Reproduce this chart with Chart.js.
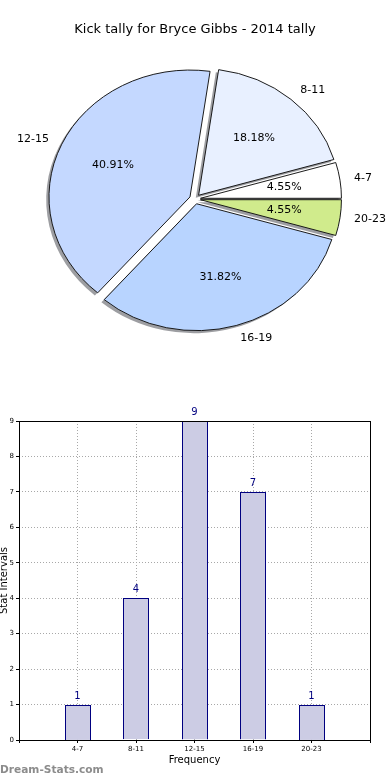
<!DOCTYPE html>
<html>
<head>
<meta charset="utf-8">
<script src="https://cdn.jsdelivr.net/npm/chart.js@4/dist/chart.umd.min.js"></script>
<style>
  html, body { margin: 0; padding: 0; background: #fff; }
  body { width: 390px; height: 780px; position: relative; overflow: hidden; font-family: "DejaVu Sans", sans-serif; }
  #pieBox { position: absolute; left: 0; top: 0; width: 390px; height: 380px; }
  #barBox { position: absolute; left: 0; top: 390px; width: 390px; height: 390px; }
  #wm { position: absolute; left: 0; top: 763px; font: bold 10.6px "DejaVu Sans", sans-serif; color: #8c8c8c; }
</style>
</head>
<body>
<div id="pieBox"><canvas id="pie" width="390" height="380"></canvas></div>
<div id="barBox"><canvas id="bar" width="390" height="390"></canvas></div>
<div id="wm">Dream-Stats.com</div>
<script>
// ---- data ----
const titleText = 'Kick tally for Bryce Gibbs - 2014 tally';
const categories = ['4-7', '8-11', '12-15', '16-19', '20-23'];
const kickCounts = [1, 4, 9, 7, 1];
const sliceColors = ['#ffffff', '#e8f0ff', '#c4d8ff', '#b8d4ff', '#d0eb8c'];
const yTicks = [0, 1, 2, 3, 4, 5, 6, 7, 8, 9];
const xAxisTitle = 'Frequency';
const yAxisTitle = 'Stat Intervals';

const FONT = '"DejaVu Sans", sans-serif';
const SY = 0.9;        // vertical squash of the pie (ellipse)
const EXPLODE = 5.5;   // px each wedge is pulled out

// matplotlib draws counter-clockwise from east; Chart.js clockwise -> reverse order
const pieLabels = categories.slice().reverse();
const pieValues = kickCounts.slice().reverse();
const pieColors = sliceColors.slice().reverse();
const total = kickCounts.reduce((a, b) => a + b, 0);

function place(ctx, arc, dx, dy) {
  const mid = (arc.startAngle + arc.endAngle) / 2;
  ctx.translate(dx, dy);
  ctx.translate(arc.x, arc.y);
  ctx.scale(1, SY);
  ctx.translate(-arc.x, -arc.y);
  ctx.translate(EXPLODE * Math.cos(mid), EXPLODE * Math.sin(mid));
}

const piePlugin = {
  id: 'piePlugin',
  beforeDatasetsDraw(chart) {
    const ctx = chart.ctx;
    const arcs = chart.getDatasetMeta(0).data;
    // shadows first (under all wedges)
    arcs.forEach(arc => {
      const saved = arc.options;
      arc.options = Object.assign({}, saved, { backgroundColor: 'rgba(60,62,70,0.5)', borderWidth: 0, borderColor: 'rgba(0,0,0,0)' });
      ctx.save();
      place(ctx, arc, -2.8, 2.6);
      arc.draw(ctx);
      ctx.restore();
      arc.options = saved;
    });
    // wedges
    arcs.forEach(arc => {
      ctx.save();
      place(ctx, arc, 0, 0);
      arc.draw(ctx);
      ctx.restore();
    });
    // labels
    ctx.save();
    ctx.fillStyle = '#000';
    ctx.font = '11px ' + FONT;
    ctx.textBaseline = 'middle';
    arcs.forEach((arc, i) => {
      const mid = (arc.startAngle + arc.endAngle) / 2;
      const r = arc.outerRadius;
      const c = Math.cos(mid), s = Math.sin(mid);
      const lx = arc.x + (EXPLODE + 1.1 * r) * c;
      const ly = arc.y + (EXPLODE + 1.1 * r) * s * SY;
      ctx.textAlign = c >= 0 ? 'left' : 'right';
      ctx.fillText(pieLabels[i], lx, ly);
      const px = arc.x + (EXPLODE + 0.6 * r) * c;
      const py = arc.y + (EXPLODE + 0.6 * r) * s * SY;
      ctx.textAlign = 'center';
      ctx.fillText((pieValues[i] / total * 100).toFixed(2) + '%', px, py);
    });
    ctx.restore();
    return false;
  }
};

new Chart(document.getElementById('pie'), {
  type: 'pie',
  data: {
    labels: pieLabels,
    datasets: [{
      data: pieValues,
      backgroundColor: pieColors,
      borderColor: '#111',
      borderWidth: 1,
      offset: 0
    }]
  },
  options: {
    responsive: false,
    animation: false,
    events: [],
    rotation: 90,
    radius: 141,
    layout: { padding: { left: 0, right: 0, top: 0, bottom: 29.6 } },
    plugins: {
      legend: { display: false },
      tooltip: { enabled: false },
      title: {
        display: true,
        text: titleText,
        color: '#000',
        font: { family: FONT, size: 13, weight: 'normal' },
        padding: { top: 22, bottom: 10 }
      }
    }
  },
  plugins: [piePlugin]
});

// ---- bar chart ----
const barLabels = [''].concat(categories, ['']);
const barValues = [null].concat(kickCounts, [null]);

const barPlugin = {
  id: 'barPlugin',
  beforeDatasetDraw(chart, args) {
    // draw each bar snapped to whole pixels so the 1px outline stays crisp
    const ctx = chart.ctx;
    args.meta.data.forEach((el, i) => {
      if (barValues[i] === null || barValues[i] === undefined) return;
      const left = el.x - el.width / 2;
      ctx.save();
      ctx.translate(Math.round(left) - left, Math.round(el.y) - el.y);
      el.draw(ctx);
      ctx.restore();
    });
    return false;
  },
  afterDatasetsDraw(chart) {
    const ctx = chart.ctx;
    const meta = chart.getDatasetMeta(0);
    ctx.save();
    ctx.fillStyle = '#000080';
    ctx.font = '10px ' + FONT;
    ctx.textAlign = 'center';
    ctx.textBaseline = 'bottom';
    meta.data.forEach((el, i) => {
      const v = barValues[i];
      if (v === null || v === undefined) return;
      ctx.fillText(String(v), el.x, el.y - 3.5);
    });
    ctx.restore();
  },
  afterDraw(chart) {
    const ctx = chart.ctx;
    const a = chart.chartArea;
    ctx.save();
    ctx.strokeStyle = '#000';
    ctx.lineWidth = 1;
    ctx.strokeRect(Math.round(a.left) + 0.5, Math.round(a.top) + 0.5, Math.round(a.right - a.left), Math.round(a.bottom - a.top));
    ctx.restore();
  }
};

function gridOpts() {
  return {
    color: '#a8a8a8',
    lineWidth: 1,
    offset: false,
    borderDash: [1, 2],
    drawTicks: true,
    tickLength: 3,
    tickColor: '#000',
    tickBorderDash: []
  };
}

new Chart(document.getElementById('bar'), {
  type: 'bar',
  data: {
    labels: barLabels,
    datasets: [{
      data: barValues,
      backgroundColor: '#ccccE4',
      borderColor: '#000080',
      borderWidth: 1,
      inflateAmount: 0,
      barPercentage: 26 / 58.5,
      categoryPercentage: 1
    }]
  },
  options: {
    responsive: false,
    animation: false,
    events: [],
    layout: { padding: { left: 0, right: 20, top: 31, bottom: 14 } },
    plugins: { legend: { display: false }, tooltip: { enabled: false } },
    scales: {
      x: {
        type: 'category',
        offset: false,
        z: 1,
        grid: gridOpts(),
        border: { display: false, dash: [1, 2] },
        ticks: { color: '#000', font: { family: FONT, size: 7 }, padding: 2, maxRotation: 0, autoSkip: false },
        title: { display: true, text: xAxisTitle, color: '#000', font: { family: FONT, size: 10 }, padding: 0 },
        afterFit(scale) { scale.height = 26; }
      },
      y: {
        min: 0,
        max: 9,
        z: 1,
        afterBuildTicks(scale) { scale.ticks = yTicks.map(v => ({ value: v })); },
        grid: gridOpts(),
        border: { display: false, dash: [1, 2] },
        ticks: { color: '#000', font: { family: FONT, size: 7 }, padding: 2 },
        title: { display: true, text: yAxisTitle, color: '#000', font: { family: FONT, size: 10 }, padding: { top: -2, bottom: 0 } },
        afterFit(scale) { scale.width = 19; }
      }
    }
  },
  plugins: [barPlugin]
});
</script>
</body>
</html>
